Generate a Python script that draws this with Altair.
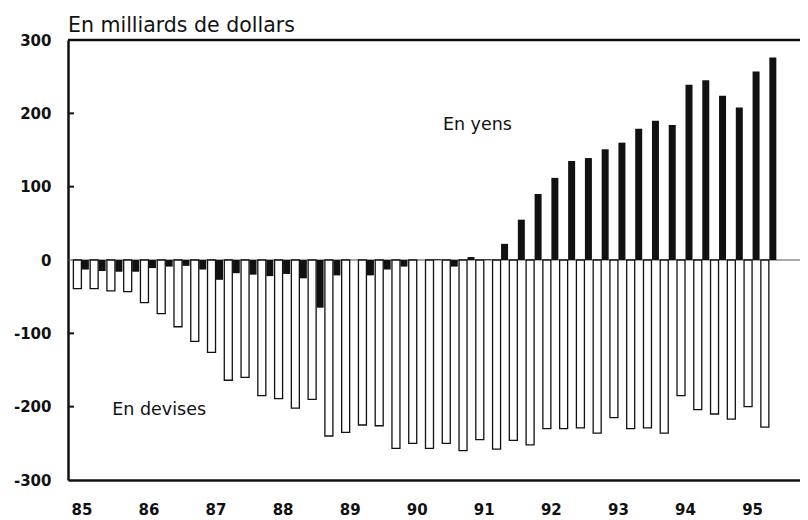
import altair as alt
import pandas as pd

# Quarterly data, 1985 Q1 -> 1995 Q2
years = [85, 86, 87, 88, 89, 90, 91, 92, 93, 94, 95]
first_year = 85
n_quarters = 42

devises = [-39, -39, -42, -43, -58, -73, -91, -111, -126, -164, -160, -185,
           -189, -202, -190, -240, -235, -225, -226, -257, -250, -257, -250,
           -260, -245, -258, -246, -252, -230, -230, -229, -236, -215, -230,
           -229, -236, -185, -204, -210, -217, -200, -228]
yens = [-13, -15, -16, -16, -11, -9, -8, -13, -27, -18, -20, -22, -19, -25,
        -65, -21, 0, -21, -13, -9, 0, 1, -9, 4, 1, 22, 55, 90, 112, 135, 139,
        151, 160, 179, 190, 184, 239, 245, 224, 208, 257, 276]

y_ticks = [-300, -200, -100, 0, 100, 200, 300]
inner_ticks = [-200, -100, 100, 200]

ann_text = ["En yens", "En devises"]
ann_t = [90.39, 85.46]
ann_v = [184, -205]

df = pd.DataFrame({
    "t": [first_year + i / 4 for i in range(n_quarters)],
    "devises": devises,
    "yens": yens,
})
ann = pd.DataFrame({"label": ann_text, "t": ann_t, "v": ann_v})
ticks_df = pd.DataFrame({"v": inner_ticks})

FONT = "DejaVu Sans"

x_scale = alt.Scale(domain=[84.875, 95.64], nice=False, zero=False)
y_scale = alt.Scale(domain=[-300, 300], nice=False)

x_axis = alt.Axis(values=years, format="d", title=None, grid=False, ticks=False,
                  tickSize=0, labelPadding=22, labelFont=FONT, labelFontSize=15,
                  labelFontWeight="bold", labelColor="#111", labelFlush=False,
                  domainColor="#111", domainWidth=2.5)
y_axis = alt.Axis(values=y_ticks, title=None, grid=False, ticks=False, tickSize=0,
                  labelPadding=17, labelFont=FONT, labelFontSize=15,
                  labelFontWeight="bold", labelColor="#111",
                  labelExpr="'' + datum.value",
                  domainColor="#111", domainWidth=2.5)

base = alt.Chart(df)

white = base.mark_bar(width=8, xOffset=-4, fill="white", stroke="#111",
                      strokeWidth=1.3).encode(
    x=alt.X("t:Q", scale=x_scale, axis=x_axis),
    y=alt.Y("devises:Q", scale=y_scale, axis=y_axis),
)
black = base.mark_bar(width=7, xOffset=4, fill="#111").encode(
    x=alt.X("t:Q", scale=x_scale),
    y=alt.Y("yens:Q", scale=y_scale),
)

zero_rule = alt.Chart(pd.DataFrame({"v": [0]})).mark_rule(
    color="#555", strokeWidth=1).encode(y=alt.Y("v:Q", scale=y_scale))
top_rule = alt.Chart(pd.DataFrame({"v": [300]})).mark_rule(
    color="#111", strokeWidth=2.5).encode(y=alt.Y("v:Q", scale=y_scale))

tick_marks = alt.Chart(ticks_df).mark_rule(color="#111", strokeWidth=2).encode(
    y=alt.Y("v:Q", scale=y_scale), x=alt.value(0), x2=alt.value(6))

labels = alt.Chart(ann).mark_text(align="left", baseline="middle", font=FONT,
                                  fontSize=17.5, color="#111").encode(
    x=alt.X("t:Q", scale=x_scale),
    y=alt.Y("v:Q", scale=y_scale),
    text="label:N",
)

chart = alt.layer(zero_rule, white, black, top_rule, tick_marks, labels).properties(
    width=732, height=440,
    title=alt.TitleParams("En milliards de dollars", anchor="start", frame="group",
                          font=FONT, fontSize=20.5, fontWeight="normal",
                          color="#111", offset=8, dy=11),
    autosize=alt.AutoSizeParams(type="none"),
    padding={"left": 60, "top": 32, "right": 0, "bottom": 40},
).configure_view(stroke=None).configure(background="white")

chart.save("out.html", embed_options={"renderer": "svg", "actions": False})
